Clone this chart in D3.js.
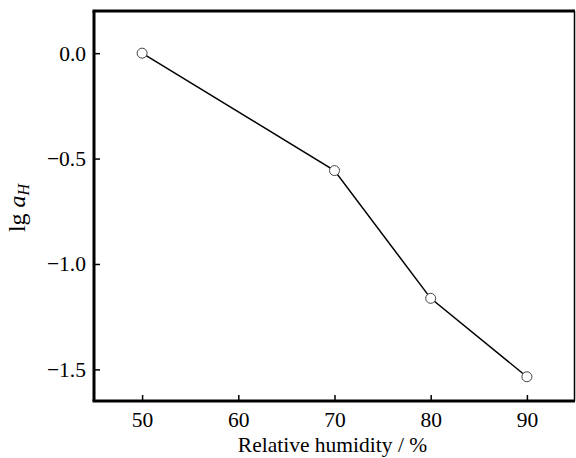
<!DOCTYPE html>
<html>
<head>
<meta charset="utf-8">
<script src="https://cdn.jsdelivr.net/npm/d3@7"></script>
<style>
  body { margin: 0; background: #fff; }
  text { font-family: "Liberation Serif", "Times New Roman", serif; fill: #000; }
</style>
</head>
<body>
<script>
var svgWidth = 576,
    svgHeight = 458;

// data
var humidity = [50, 70, 80, 90];
var lgA = [0.0, -0.557, -1.163, -1.535];
var xTicks = [50, 60, 70, 80, 90];
var yTicks = [0.0, -0.5, -1.0, -1.5];

var plotLeft = 94, plotRight = 575, plotTop = 11, plotBottom = 401;

var svg = d3.select("body").append("svg")
    .attr("width", svgWidth)
    .attr("height", svgHeight);

var x = d3.scaleLinear().domain([45, 95]).range([plotLeft, plotRight]);
var y = d3.scaleLinear().domain([-1.65, 0.2]).range([plotBottom, plotTop]);

var fmt = function(d) { return d3.format(".1f")(d).replace("-", "\u2212"); };

// x axis, ticks pointing in
var xAxis = svg.append("g")
    .attr("transform", "translate(0," + plotBottom + ")")
    .call(d3.axisBottom(x).tickValues(xTicks).tickSizeInner(-6).tickSizeOuter(0).tickPadding(11));
xAxis.select(".domain").remove();
xAxis.selectAll("line").attr("stroke", "#000").attr("stroke-width", 1.5);
xAxis.selectAll("text").style("font-size", "21.5px").attr("fill", "#000");

var yAxis = svg.append("g")
    .attr("transform", "translate(" + plotLeft + ",0)")
    .call(d3.axisLeft(y).tickValues(yTicks).tickFormat(fmt).tickSizeInner(-6).tickSizeOuter(0).tickPadding(8));
yAxis.select(".domain").remove();
yAxis.selectAll("line").attr("stroke", "#000").attr("stroke-width", 1.5);
yAxis.selectAll("text").style("font-size", "21.5px").attr("fill", "#000");

// frame
svg.append("line").attr("x1", plotLeft - 1.5).attr("x2", plotRight).attr("y1", plotTop).attr("y2", plotTop)
    .attr("stroke", "#000").attr("stroke-width", 3);
svg.append("line").attr("x1", plotLeft - 1.5).attr("x2", plotRight).attr("y1", plotBottom).attr("y2", plotBottom)
    .attr("stroke", "#000").attr("stroke-width", 3);
svg.append("line").attr("x1", plotLeft).attr("x2", plotLeft).attr("y1", plotTop).attr("y2", plotBottom)
    .attr("stroke", "#000").attr("stroke-width", 3);
svg.append("line").attr("x1", plotRight - 0.5).attr("x2", plotRight - 0.5).attr("y1", plotTop).attr("y2", plotBottom)
    .attr("stroke", "#000").attr("stroke-width", 1.5);

var pts = humidity.map(function(h, i) { return [h, lgA[i]]; });

svg.append("path")
    .datum(pts)
    .attr("fill", "none")
    .attr("stroke", "#000")
    .attr("stroke-width", 1.5)
    .attr("d", d3.line().x(function(d) { return x(d[0]); }).y(function(d) { return y(d[1]); }));

svg.selectAll("circle.pt")
    .data(pts)
    .enter().append("circle")
    .attr("class", "pt")
    .attr("cx", function(d) { return x(d[0]); })
    .attr("cy", function(d) { return y(d[1]); })
    .attr("r", 5)
    .attr("fill", "#fff")
    .attr("stroke", "#444")
    .attr("stroke-width", 1);

// axis titles
svg.append("text")
    .attr("x", (plotLeft + plotRight) / 2 - 2)
    .attr("y", 452)
    .attr("text-anchor", "middle")
    .style("font-size", "21.5px")
    .text("Relative humidity / %");

var yt = svg.append("text")
    .attr("transform", "translate(25,208) rotate(-90)")
    .attr("text-anchor", "middle")
    .style("font-size", "24px");
yt.append("tspan").text("lg ");
yt.append("tspan").style("font-style", "italic").text("a");
yt.append("tspan").style("font-style", "italic").style("font-size", "16px").attr("dy", 4).text("H");
</script>
</body>
</html>
